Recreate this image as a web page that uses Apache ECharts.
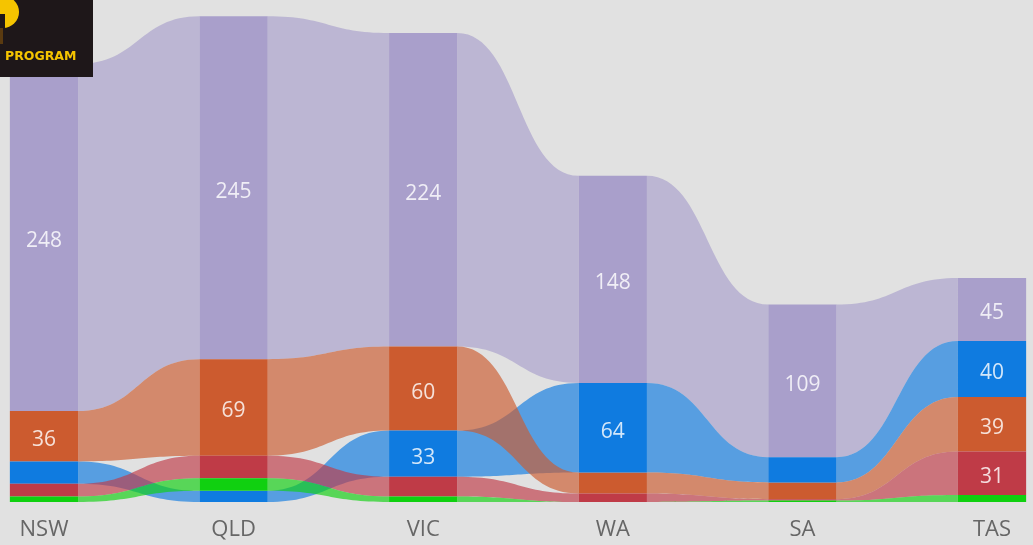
<!DOCTYPE html>
<html>
<head>
<meta charset="utf-8">
<script src="https://cdn.jsdelivr.net/npm/echarts@6/dist/echarts.min.js"></script>
<style>
html,body{margin:0;padding:0;background:#e1e1e1;}
#chart{width:1033px;height:545px;}
</style>
</head>
<body>
<div id="chart"></div>
<script>
const categories = ['NSW', 'QLD', 'VIC', 'WA', 'SA', 'TAS'];
const seriesNames = ['Series 1', 'Series 2', 'Series 3', 'Series 4', 'Series 5'];
const purpleVals = [248, 245, 224, 148, 109, 45];
const orangeVals = [36, 69, 60, 15, 12, 39];
const blueVals   = [16, 8, 33, 64, 18, 40];
const redVals    = [9, 16, 14, 6, 1, 31];
const greenVals  = [4, 9, 4, 0, 1, 5];

const allVals = [purpleVals, orangeVals, blueVals, redVals, greenVals];
const barColors = ['#a99fcb', '#cc5b2f', '#0f7be0', '#bf3b47', '#10d010'];
const ribbonDrawOrder = [0, 2, 1, 3, 4];
const ribbonAlpha = 0.66;

function hexToRgba(hex, a) {
  const n = parseInt(hex.slice(1), 16);
  return 'rgba(' + ((n >> 16) & 255) + ',' + ((n >> 8) & 255) + ',' + (n & 255) + ',' + a + ')';
}

// compute stacking: largest on top
const nCat = categories.length;
const bottoms = allVals.map(() => new Array(nCat).fill(0));
const tops = allVals.map(() => new Array(nCat).fill(0));
for (let c = 0; c < nCat; c++) {
  const order = allVals.map((v, s) => s);
  order.sort((a, b) => allVals[b][c] - allVals[a][c] || a - b); // top to bottom
  let acc = 0;
  for (let k = order.length - 1; k >= 0; k--) {
    const s = order[k];
    bottoms[s][c] = acc;
    acc += allVals[s][c];
    tops[s][c] = acc;
  }
}

function makeData(s) {
  const d = [];
  for (let c = 0; c < nCat; c++) {
    const hasNext = c < nCat - 1;
    d.push([c, bottoms[s][c], tops[s][c], allVals[s][c],
      hasNext ? bottoms[s][c + 1] : null, hasNext ? tops[s][c + 1] : null]);
  }
  return d;
}

function ribbonRender(s) {
  return function (params, api) {
    const i = api.value(0);
    const nb = api.value(4), nt = api.value(5);
    if (i >= nCat - 1 || isNaN(nb)) return null;
    const b = api.value(1), t = api.value(2);
    const bw = api.size([1, 0])[0] * 0.36;
    const pb = api.coord([i, b]), pt = api.coord([i, t]);
    const qb = api.coord([i + 1, nb]), qt = api.coord([i + 1, nt]);
    const x1 = pb[0] + bw / 2, x2 = qb[0] - bw / 2;
    const xm = (x1 + x2) / 2;
    if (Math.abs(pb[1] - pt[1]) < 0.01 && Math.abs(qb[1] - qt[1]) < 0.01) return null;
    const pd = 'M' + x1 + ' ' + pt[1] +
      ' C' + xm + ' ' + pt[1] + ' ' + xm + ' ' + qt[1] + ' ' + x2 + ' ' + qt[1] +
      ' L' + x2 + ' ' + qb[1] +
      ' C' + xm + ' ' + qb[1] + ' ' + xm + ' ' + pb[1] + ' ' + x1 + ' ' + pb[1] + ' Z';
    return {
      type: 'path',
      shape: { pathData: pd },
      style: { fill: hexToRgba(barColors[s], ribbonAlpha) }
    };
  };
}

function barRender(s) {
  return function (params, api) {
    const i = api.value(0);
    const b = api.value(1), t = api.value(2), v = api.value(3);
    if (v <= 0) return null;
    const bw = api.size([1, 0])[0] * 0.36;
    const pb = api.coord([i, b]), pt = api.coord([i, t]);
    const children = [{
      type: 'rect',
      shape: { x: pb[0] - bw / 2, y: pt[1], width: bw, height: pb[1] - pt[1] },
      style: { fill: barColors[s] }
    }];
    if (v >= 20) {
      children.push({
        type: 'text',
        style: {
          text: String(v),
          x: pb[0], y: (pb[1] + pt[1]) / 2 + 4,
          align: 'center', verticalAlign: 'middle',
          fill: 'rgba(255,255,255,0.82)',
          font: '21px "Open Sans", "Noto Sans", sans-serif'
        }
      });
    }
    return { type: 'group', children: children };
  };
}

const series = [];
ribbonDrawOrder.forEach((s) => {
  series.push({
    type: 'custom', name: seriesNames[s], z: 1,
    renderItem: ribbonRender(s), data: makeData(s), silent: true
  });
});
allVals.forEach((vals, s) => {
  series.push({
    type: 'custom', name: seriesNames[s], z: 2,
    renderItem: barRender(s), data: makeData(s)
  });
});

const chart = echarts.init(document.getElementById('chart'));
chart.setOption({
  backgroundColor: '#e1e1e1',
  animation: false,
  grid: { left: 44, right: 41, top: 12, bottom: 43 },
  xAxis: {
    type: 'category', data: categories, boundaryGap: false,
    axisLine: { show: false }, axisTick: { show: false }, splitLine: { show: false },
    axisLabel: { color: '#666666', fontSize: 22, margin: 17, fontFamily: '"Open Sans", "Noto Sans", sans-serif' }
  },
  yAxis: { type: 'value', min: 0, max: 350, show: false },
  series: series,
  graphic: [
    { type: 'rect', z: 100, shape: { x: 0, y: 0, width: 93, height: 77 }, style: { fill: '#1e1719' } },
    { type: 'circle', z: 101, shape: { cx: 3, cy: 12, r: 16 }, style: { fill: '#f5c400' } },
    { type: 'rect', z: 102, shape: { x: 0, y: 14, width: 5, height: 14 }, style: { fill: '#1e1719' } },
    { type: 'rect', z: 102, shape: { x: 0, y: 28, width: 3, height: 16 }, style: { fill: '#5a3a10' } },
    { type: 'text', z: 103, style: { text: 'PROGRAM', x: 5, y: 57, verticalAlign: 'middle', fill: '#f5c400',
      font: 'bold 12.5px "DejaVu Sans", "Liberation Sans", sans-serif' } }
  ]
});
</script>
</body>
</html>
